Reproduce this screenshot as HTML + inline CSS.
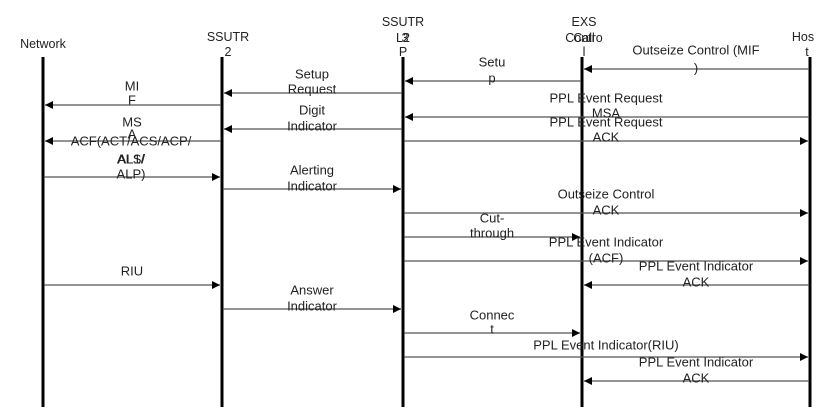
<!DOCTYPE html>
<html><head><meta charset="utf-8"><style>
html,body{margin:0;padding:0;background:#fff;width:823px;height:411px;overflow:hidden}
text{font-family:"Liberation Sans",Arial,sans-serif;font-size:13px;fill:#222}
text.h{font-size:12.5px}
</style></head><body>
<svg width="823" height="411" viewBox="0 0 823 411" xmlns="http://www.w3.org/2000/svg">
<defs>
<marker id="a" viewBox="0 0 10 10" refX="10" refY="5" markerWidth="8" markerHeight="8" markerUnits="userSpaceOnUse" orient="auto"><path d="M0,0L10,5L0,10z" fill="#000"/></marker>
</defs>
<g stroke="#000" stroke-width="3">
<line x1="43" y1="57" x2="43" y2="407"/>
<line x1="222" y1="57" x2="222" y2="407"/>
<line x1="403" y1="57" x2="403" y2="407"/>
<line x1="582" y1="57" x2="582" y2="407"/>
<line x1="810" y1="57" x2="810" y2="407"/>
</g>
<g stroke="#555" stroke-width="1.2" marker-end="url(#a)">
<line x1="809" y1="69" x2="584" y2="69"/>
<line x1="581" y1="81" x2="405" y2="81"/>
<line x1="402" y1="93" x2="224" y2="93"/>
<line x1="221" y1="105" x2="45" y2="105"/>
<line x1="809" y1="117" x2="405" y2="117"/>
<line x1="402" y1="129" x2="224" y2="129"/>
<line x1="221" y1="141" x2="45" y2="141"/>
<line x1="404" y1="141" x2="808" y2="141"/>
<line x1="44" y1="177" x2="220" y2="177"/>
<line x1="223" y1="189" x2="401" y2="189"/>
<line x1="404" y1="213" x2="808" y2="213"/>
<line x1="404" y1="237" x2="580" y2="237"/>
<line x1="404" y1="261" x2="808" y2="261"/>
<line x1="809" y1="285" x2="584" y2="285"/>
<line x1="44" y1="285" x2="220" y2="285"/>
<line x1="223" y1="309" x2="401" y2="309"/>
<line x1="404" y1="333" x2="580" y2="333"/>
<line x1="404" y1="357" x2="808" y2="357"/>
<line x1="809" y1="381" x2="584" y2="381"/>
</g>
<g text-anchor="middle" dominant-baseline="central">
<text class="h" x="43" y="44">Network</text>
<text class="h" x="228" y="37">SSUTR</text><text class="h" x="228" y="52">2</text>
<text class="h" x="403" y="22">SSUTR</text><text class="h" x="403" y="38">L2</text><text class="h" x="405" y="38">3</text><text class="h" x="403" y="52">P</text>
<text class="h" x="584" y="22">EXS</text><text class="h" x="584" y="38">Call</text><text class="h" x="584" y="38">Contro</text><text class="h" x="584" y="52">l</text>
<text class="h" x="803" y="37">Hos</text><text class="h" x="807" y="52">t</text>
<text x="696" y="50">Outseize Control (MIF</text><text x="696" y="68">)</text>
<text x="492" y="62">Setu</text><text x="492" y="78">p</text>
<text x="312" y="74">Setup</text><text x="312" y="89">Request</text>
<text x="132" y="86">MI</text><text x="132" y="100">F</text>
<text x="606" y="98">PPL Event Request</text><text x="606" y="113">MSA</text>
<text x="312" y="110">Digit</text><text x="312" y="126">Indicator</text>
<text x="132" y="122">MS</text><text x="132" y="134">A</text>
<text x="131" y="141">ACF(ACT/ACS/ACP/</text>
<text x="131" y="159">ALS/</text><text x="131" y="159">AL1/</text>
<text x="131" y="174">ALP)</text>
<text x="606" y="122">PPL Event Request</text><text x="606" y="137">ACK</text>
<text x="312" y="170">Alerting</text><text x="312" y="186">Indicator</text>
<text x="606" y="194">Outseize Control</text><text x="606" y="210">ACK</text>
<text x="492" y="218">Cut-</text><text x="492" y="233">through</text>
<text x="606" y="242">PPL Event Indicator</text><text x="606" y="258">(ACF)</text>
<text x="696" y="266">PPL Event Indicator</text><text x="696" y="282">ACK</text>
<text x="132" y="271">RIU</text>
<text x="312" y="290">Answer</text><text x="312" y="306">Indicator</text>
<text x="492" y="315">Connec</text><text x="492" y="329">t</text>
<text x="606" y="345">PPL Event Indicator(RIU)</text>
<text x="696" y="362">PPL Event Indicator</text><text x="696" y="378">ACK</text>
</g>
</svg>
</body></html>
